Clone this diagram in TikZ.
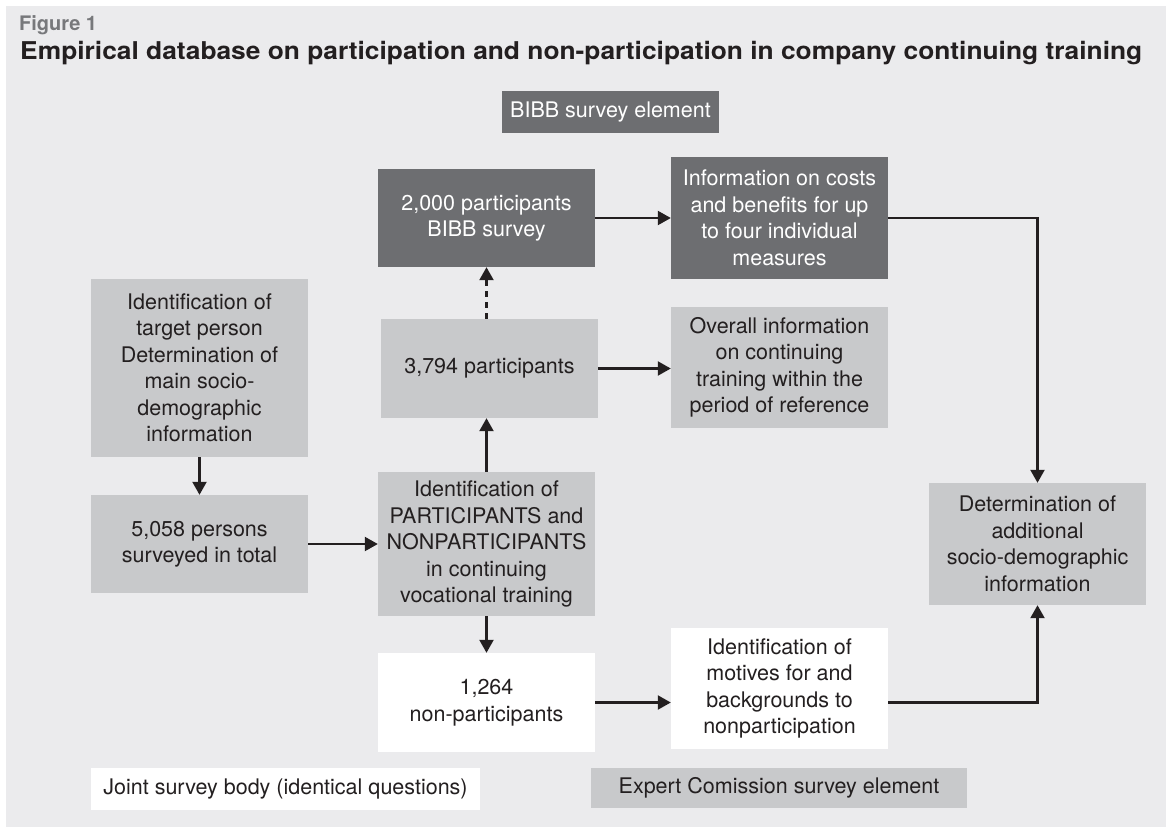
\documentclass[tikz,border=0pt]{standalone}
\usepackage{fontspec}
\setmainfont{TeX Gyre Heros}
\usetikzlibrary{arrows.meta}
\definecolor{bg}{HTML}{EBEBED}
\definecolor{darkbox}{HTML}{6D6E71}
\definecolor{lightbox}{HTML}{C8C9CB}
\definecolor{ink}{HTML}{231F20}
\definecolor{figgray}{HTML}{77787B}
\begin{document}
\begin{tikzpicture}[x=1pt,y=-1pt,
  box/.style={minimum width=217pt, inner sep=0pt, align=center, font=\fontsize{21.5}{26.5}\selectfont, text=ink},
  darkb/.style={box, fill=darkbox, text=white},
  lightb/.style={box, fill=lightbox},
  wbox/.style={box, fill=white},
  arr/.style={draw=ink, line width=2.2pt, -{Triangle[length=13pt,width=14pt]}},
  dasharr/.style={arr, dash pattern=on 6pt off 5pt}
]
\fill[white] (0,0) rectangle (1166,827);
\fill[bg] (6,6) rectangle (1166,827);
\useasboundingbox (0,0) rectangle (1166,827);

\node[anchor=base west, inner sep=0pt, font=\bfseries\fontsize{20}{24}\selectfont, text=figgray] (fig) at (19,30) {Figure 1};
\node[anchor=base west, inner sep=0pt, font=\bfseries\fontsize{24.5}{28}\selectfont, text=ink] (title) at (20,59) {\scalebox{1.075}[1]{Empirical database on participation and non-participation in company continuing training}};

\node[darkb, minimum width=217pt, minimum height=42pt] (bibb) at (610.5,112) {BIBB survey element};
\node[darkb, minimum height=98pt] (p2000) at (486.5,218) {2,000 participants\\BIBB survey};
\node[darkb, minimum height=122pt] (costs) at (779.5,218) {Information on costs\\and benefits for up\\to four individual\\measures};
\node[lightb, minimum height=99pt] (p3794) at (489.5,368.5) {3,794 participants};
\node[lightb, minimum height=121pt] (overall) at (779.5,367.5) {Overall information\\on continuing\\training within the\\period of reference};
\node[lightb, minimum height=178pt] (target) at (199.5,368) {Identification of\\target person\\Determination of\\main socio-\\demographic\\information};
\node[lightb, minimum height=98pt] (p5058) at (199.5,544) {5,058 persons\\surveyed in total};
\node[lightb, minimum height=144pt] (ident) at (486.5,544) {Identification of\\PARTICIPANTS and\\NONPARTICIPANTS\\in continuing\\vocational training};
\node[wbox, minimum height=99pt] (p1264) at (486.5,702.5) {1,264\\non-participants};
\node[wbox, minimum height=121pt] (motives) at (779.5,688.5) {Identification of\\motives for and\\backgrounds to\\nonparticipation};
\node[lightb, minimum height=122pt] (determ) at (1037.5,544) {Determination of\\additional\\socio-demographic\\information};
\node[wbox, minimum width=389pt, minimum height=42pt] (joint) at (285.5,789) {Joint survey body (identical questions)};
\node[lightb, minimum width=376pt, minimum height=40pt] (expert) at (779,788) {Expert Comission survey element};

\draw[arr] (target.south) -- (p5058.north);
\draw[arr] (p5058.east) -- (p5058.east -| ident.west);
\draw[arr] (ident.north) -- (ident.north |- p3794.south);
\draw[arr] (ident.south) -- (p1264.north);
\draw[dasharr] (p2000.south |- p3794.north) -- (p2000.south);
\draw[arr] (p3794.east) -- (p3794.east -| overall.west);
\draw[arr] (p2000.east) -- (p2000.east -| costs.west);
\draw[arr] (p1264.east) -- (p1264.east -| motives.west);
\draw[arr] (costs.east) -| (determ.north);
\draw[arr] (motives.east |- p1264.east) -| (determ.south);
\end{tikzpicture}
\end{document}
